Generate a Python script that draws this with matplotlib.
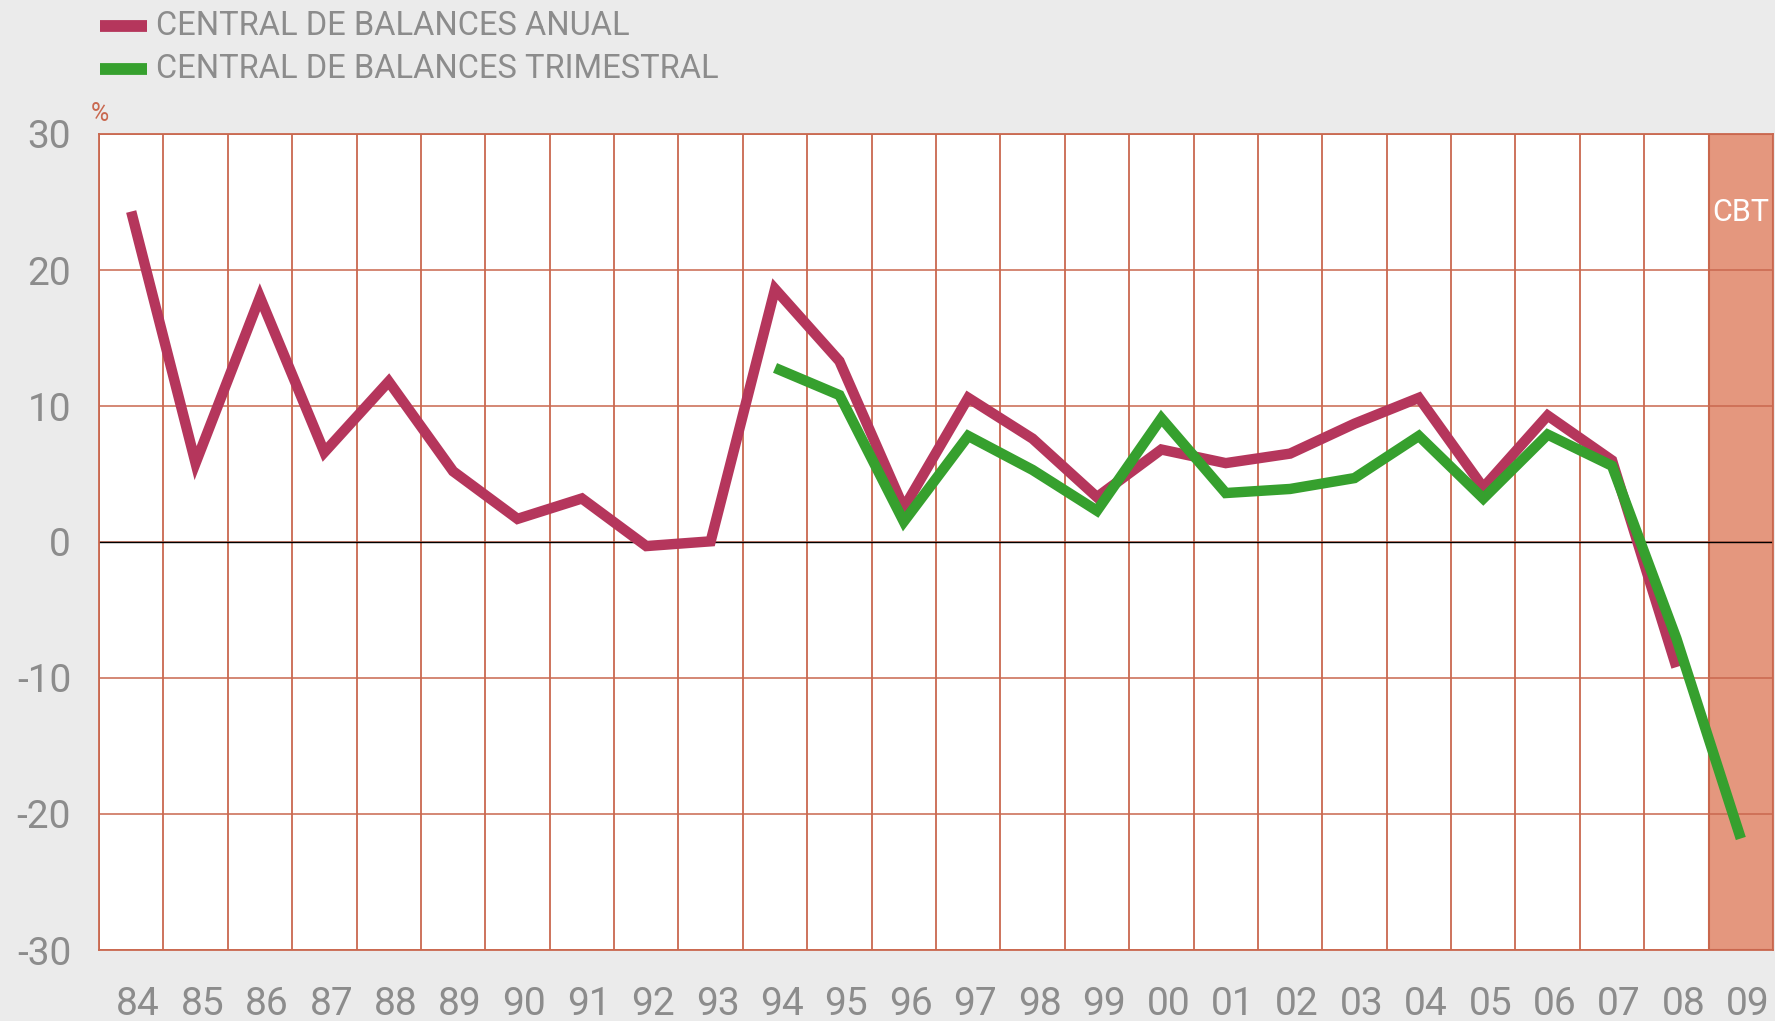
import matplotlib
matplotlib.use("Agg")
import matplotlib.pyplot as plt
import matplotlib.transforms as mtransforms
from matplotlib.lines import Line2D
import numpy as np

plt.rcParams['font.family'] = ['Roboto', 'DejaVu Sans']

years = ['84', '85', '86', '87', '88', '89', '90', '91', '92', '93', '94', '95', '96',
         '97', '98', '99', '00', '01', '02', '03', '04', '05', '06', '07', '08', '09']

anual = [24.3, 5.8, 18.0, 6.6, 11.8, 5.2, 1.7, 3.2, -0.3, 0.05, 18.6, 13.3, 2.5,
         10.6, 7.6, 3.3, 6.8, 5.8, 6.5, 8.7, 10.6, 4.0, 9.3, 6.0, -9.2, None]

trimestral = [None] * 10 + [12.8, 10.8, 1.5, 7.8, 5.3, 2.3, 9.1, 3.6, 3.9, 4.7,
                            7.8, 3.2, 7.9, 5.6, -7.1, -21.8]

yticks = [-30, -20, -10, 0, 10, 20, 30]
legend_labels = ['CENTRAL DE BALANCES ANUAL', 'CENTRAL DE BALANCES TRIMESTRAL']
band_label = 'CBT'

c_anual = '#b5365c'
c_trim = '#36a02e'
c_grid = '#c9684f'
c_text = '#8c8c8c'
c_band = '#e4977e'

W, H = 1775, 1021
fig = plt.figure(figsize=(W / 100, H / 100), dpi=100, facecolor='#ebebeb')
ax = fig.add_axes([99 / W, 1 - 950 / H, (1773 - 99) / W, (950 - 134) / H])
ax.set_facecolor('white')

n = len(years)
x = np.arange(n)
ax.set_xlim(-0.5, n - 0.5)
ax.set_ylim(-30, 30)

# CBT band
ax.axvspan(n - 1.5, n - 0.5, facecolor=c_band, edgecolor='#d0603f', linewidth=1.5, zorder=1)
ax.text(n - 1, 24.2, band_label, color='white', fontsize=22, ha='center', va='center', zorder=2)

# grid
for xv in np.arange(-0.5, n, 1.0):
    ax.axvline(xv, color=c_grid, linewidth=1.3, zorder=1.5)
for yv in yticks:
    ax.axhline(yv, color=c_grid, linewidth=1.3, zorder=1.5, alpha=0.85)
ax.axhline(0, color='black', linewidth=1.0, zorder=1.6)

a = np.array([np.nan if v is None else v for v in anual], dtype=float)
t = np.array([np.nan if v is None else v for v in trimestral], dtype=float)
ax.plot(x, a, color=c_anual, linewidth=7.5, solid_capstyle='butt', solid_joinstyle='miter', zorder=3)
ax.plot(x, t, color=c_trim, linewidth=7.5, solid_capstyle='butt', solid_joinstyle='miter', zorder=4)

for s in ax.spines.values():
    s.set_color(c_grid)
    s.set_linewidth(1.3)

ax.set_xticks(x)
ax.set_xticklabels(years)
ax.set_yticks(yticks)
ax.set_yticklabels([str(v) for v in yticks])
ax.tick_params(axis='both', length=0, labelsize=28, labelcolor=c_text)
ax.tick_params(axis='x', pad=26)
ax.tick_params(axis='y', pad=20)
for lab in ax.get_xticklabels():
    lab.set_transform(lab.get_transform() + mtransforms.ScaledTranslation(5 / 72, 0, fig.dpi_scale_trans))

# % label
fig.text(100 / W, 1 - 114 / H, '%', color=c_grid, fontsize=18, ha='center', va='center')

# legend
for i, (lbl, col) in enumerate(zip(legend_labels, [c_anual, c_trim])):
    yy = 1 - (26 + 43 * i) / H
    fig.add_artist(Line2D([100 / W, 147 / W], [yy, yy], color=col, linewidth=8.5,
                          solid_capstyle='butt', transform=fig.transFigure))
    fig.text(156 / W, yy, lbl, color=c_text, fontsize=23.5, ha='left', va='center')

fig.savefig('out.png', dpi=100, facecolor=fig.get_facecolor())
